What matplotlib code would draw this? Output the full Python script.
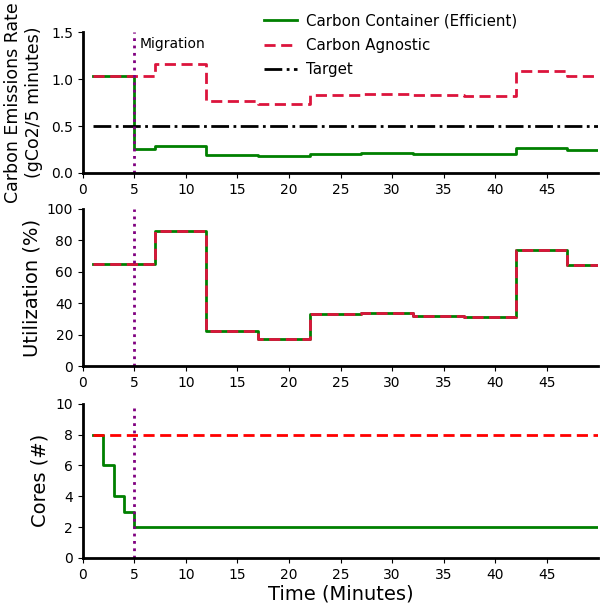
import numpy as np
import matplotlib
matplotlib.use('Agg')
import matplotlib.pyplot as plt

# step change times (minutes)
t = [1, 5, 7, 12, 17, 22, 27, 32, 37, 42, 47, 50]

# carbon emissions rate (gCo2 / 5 minutes)
carbon_agnostic = [1.03, 1.03, 1.16, 0.77, 0.73, 0.83, 0.84, 0.83, 0.82, 1.09, 1.03, 1.03]
carbon_container = [1.03, 0.26, 0.29, 0.19, 0.18, 0.20, 0.21, 0.20, 0.20, 0.27, 0.25, 0.25]
target = 0.5

# utilization (%)
util_agnostic = [65, 65, 86, 22, 17, 33, 34, 32, 31, 74, 64, 64]
util_container = [65, 65, 86, 22, 17, 33, 34, 32, 31, 74, 64, 64]

# cores
t_cores = [1, 2, 3, 4, 5, 50]
cores_container = [8, 6, 4, 3, 2, 2]
cores_agnostic = [8, 8, 8, 8, 8, 8]

migration = 5

fig = plt.figure(figsize=(6, 6.09), dpi=100)
ax1 = fig.add_axes([0.138, 0.716, 0.859, 0.231])
ax2 = fig.add_axes([0.138, 0.399, 0.859, 0.258])
ax3 = fig.add_axes([0.138, 0.084, 0.859, 0.253])

# top: carbon
l1, = ax1.step(t, carbon_container, where='post', color='green', lw=2, label='Carbon Container (Efficient)')
l2, = ax1.step(t, carbon_agnostic, where='post', color='crimson', lw=2, ls=(0, (4, 2)), label='Carbon Agnostic')
l3, = ax1.plot([t[0], t[-1]], [target, target], color='black', lw=2, ls='-.', label='Target')
ax1.axvline(migration, color='purple', ls=':', lw=2)
ax1.text(migration + 0.5, 1.33, 'Migration', fontsize=10)
ax1.set_ylim(0, 1.5)
ax1.set_yticks([0.0, 0.5, 1.0, 1.5])
ax1.set_ylabel('Carbon Emissions Rate\n(gCo2/5 minutes)', fontsize=12.5, labelpad=6)

# middle: utilization
ax2.step(t, util_container, where='post', color='green', lw=2)
ax2.step(t, util_agnostic, where='post', color='crimson', lw=2, ls=(0, (4, 2)))
ax2.axvline(migration, color='purple', ls=':', lw=2)
ax2.set_ylim(0, 100)
ax2.set_yticks(range(0, 101, 20))
ax2.set_ylabel('Utilization (%)', fontsize=14)

# bottom: cores
ax3.step(t_cores, cores_container, where='post', color='green', lw=2)
ax3.step(t_cores, cores_agnostic, where='post', color='red', lw=2, ls=(0, (4, 2)))
ax3.axvline(migration, color='purple', ls=':', lw=2)
ax3.set_ylim(0, 10)
ax3.set_yticks(range(0, 11, 2))
ax3.set_ylabel('Cores (#)', fontsize=14)
ax3.set_xlabel('Time (Minutes)', fontsize=14, labelpad=2)

for ax in (ax1, ax2, ax3):
    ax.set_xlim(0, 50)
    ax.set_xticks(range(0, 50, 5))
    ax.spines['top'].set_visible(False)
    ax.spines['right'].set_visible(False)
    ax.spines['left'].set_linewidth(2)
    ax.spines['bottom'].set_linewidth(2)
    ax.tick_params(labelsize=10)

fig.legend(handles=[l1, l2, l3], loc='upper left', bbox_to_anchor=(0.418, 1.0),
           frameon=False, fontsize=10.8, handlelength=2.2, handletextpad=0.55,
           labelspacing=0.62)

fig.savefig('out.png', dpi=100)
